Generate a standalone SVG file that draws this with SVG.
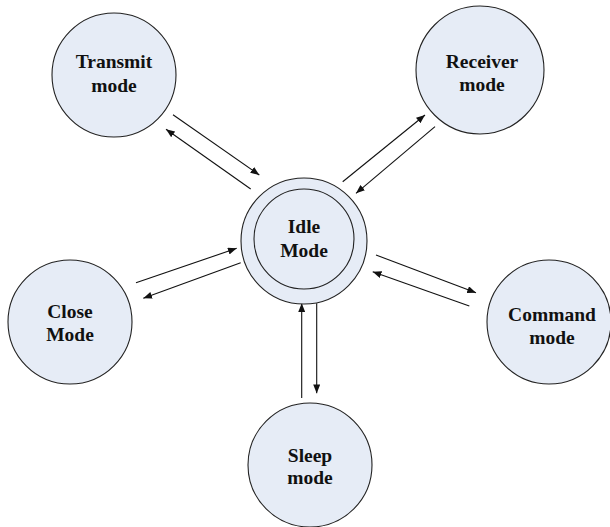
<svg xmlns="http://www.w3.org/2000/svg" width="610" height="527" viewBox="0 0 610 527">
<defs>
<style>
.n{fill:#e6ecf6;stroke:#222;stroke-width:1.1}
.t{font-family:"Liberation Serif","Times New Roman",serif;font-weight:bold;font-size:19.5px;fill:#111;text-anchor:middle}
.c{stroke:#111;stroke-width:1.1;fill:none;marker-end:url(#ah)}
</style>
<marker id="ah" viewBox="0 0 10 8" refX="10" refY="4" markerWidth="9" markerHeight="7" markerUnits="userSpaceOnUse" orient="auto">
<path d="M0,0 L10,4 L0,8 z" fill="#111"/>
</marker>
</defs>
<rect width="610" height="527" fill="#fff"/>
<g id="connectors">
<line class="c" x1="173" y1="114.7" x2="259.3" y2="175"/>
<line class="c" x1="250.7" y1="189" x2="166" y2="129.3"/>
<line class="c" x1="342.7" y1="181.7" x2="425" y2="115"/>
<line class="c" x1="435" y1="126.7" x2="356" y2="193.3"/>
<line class="c" x1="136" y1="282.7" x2="236.7" y2="248.3"/>
<line class="c" x1="240.7" y1="262.7" x2="143.3" y2="298.3"/>
<line class="c" x1="376" y1="255" x2="476" y2="292.7"/>
<line class="c" x1="469.3" y1="306" x2="372.7" y2="271.7"/>
<line class="c" x1="301.7" y1="398" x2="301.7" y2="303.3"/>
<line class="c" x1="316.7" y1="303.3" x2="316.7" y2="393.3"/>
</g>
<g id="idle">
<circle class="n" cx="304" cy="241" r="63"/>
<circle class="n" cx="304" cy="239" r="50"/>
<text class="t" x="304" y="233">Idle</text>
<text class="t" x="304" y="257">Mode</text>
</g>
<g id="transmit">
<circle class="n" cx="114" cy="75" r="62"/>
<text class="t" x="114" y="68">Transmit</text>
<text class="t" x="114" y="92">mode</text>
</g>
<g id="receiver">
<circle class="n" cx="480" cy="70" r="64"/>
<text class="t" x="482" y="68">Receiver</text>
<text class="t" x="482" y="91">mode</text>
</g>
<g id="close">
<circle class="n" cx="70" cy="322" r="62"/>
<text class="t" x="70" y="318">Close</text>
<text class="t" x="70" y="341">Mode</text>
</g>
<g id="command">
<circle class="n" cx="549" cy="322" r="62"/>
<text class="t" x="552" y="321">Command</text>
<text class="t" x="552" y="344">mode</text>
</g>
<g id="sleep">
<circle class="n" cx="310" cy="465" r="62"/>
<text class="t" x="310" y="462">Sleep</text>
<text class="t" x="310" y="484">mode</text>
</g>
</svg>
